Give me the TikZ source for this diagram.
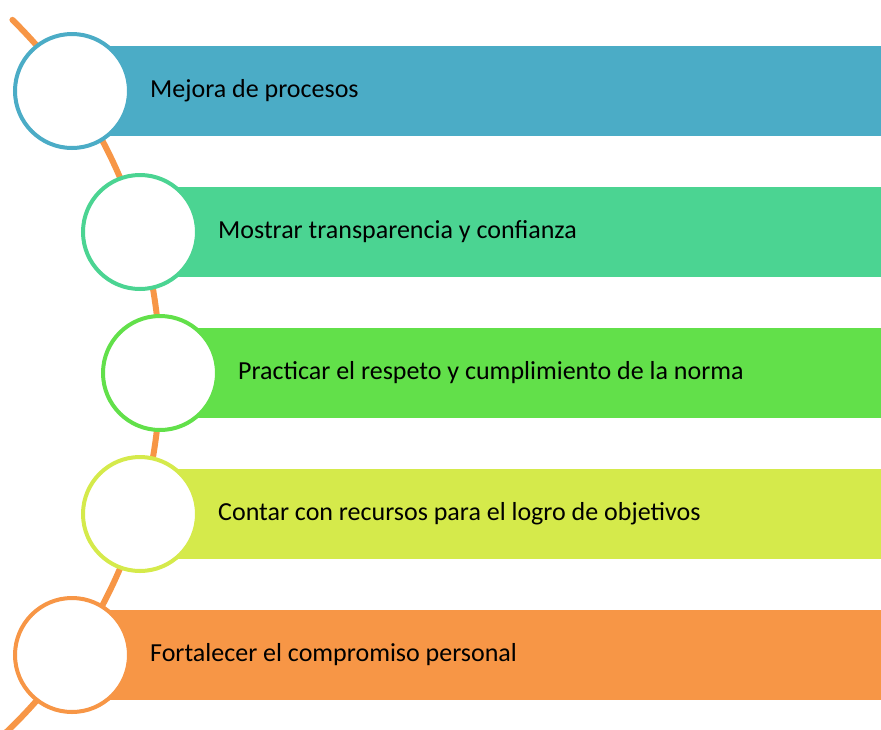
\documentclass[tikz,border=0pt]{standalone}
\usepackage{fontspec}
\setmainfont{Carlito}
\definecolor{cA}{HTML}{4BACC6}
\definecolor{cB}{HTML}{4BD492}
\definecolor{cC}{HTML}{62E04A}
\definecolor{cD}{HTML}{D5EA4B}
\definecolor{cE}{HTML}{F79646}
\begin{document}
\begin{tikzpicture}[x=1pt,y=-1pt,
  bar/.style={rectangle, inner sep=0pt, minimum height=90pt, anchor=west, draw=none},
  ring/.style={circle, inner sep=0pt, minimum size=114pt, line width=4pt, fill=white},
  lbl/.style={anchor=west, inner sep=0pt, font=\fontsize{26}{30}\selectfont, text=black}]
\useasboundingbox (0,0) rectangle (881,729);
\coordinate (C) at (-335.8,373);
\begin{scope}
\clip (0,0) rectangle (881,729);
\draw[cE, line width=6pt, line cap=round] ([shift={(-45.4:496)}]C) arc[start angle=-45.4, end angle=47, radius=496];
\end{scope}
% bars
\node[bar, fill=cA, minimum width=809pt] (b1) at (72,91) {};
\node[bar, fill=cB, minimum width=741pt] (b2) at (140,232) {};
\node[bar, fill=cC, minimum width=721pt] (b3) at (160,373) {};
\node[bar, fill=cD, minimum width=741pt] (b4) at (140,514) {};
\node[bar, fill=cE, minimum width=809pt] (b5) at (72,655) {};
% rings
\node[ring, draw=cA] (c1) at (72,91) {};
\node[ring, draw=cB] (c2) at (140,232) {};
\node[ring, draw=cC] (c3) at (160,373) {};
\node[ring, draw=cD] (c4) at (140,514) {};
\node[ring, draw=cE] (c5) at (72,655) {};
% labels
\node[lbl] (t1) at ([xshift=19pt]c1.east) {Mejora de procesos};
\node[lbl] (t2) at ([xshift=19pt]c2.east) {Mostrar transparencia y confianza};
\node[lbl] (t3) at ([xshift=19pt]c3.east) {Practicar el respeto y cumplimiento de la norma};
\node[lbl] (t4) at ([xshift=19pt]c4.east) {Contar con recursos para el logro de objetivos};
\node[lbl] (t5) at ([xshift=19pt]c5.east) {Fortalecer el compromiso personal};
\end{tikzpicture}
\end{document}
